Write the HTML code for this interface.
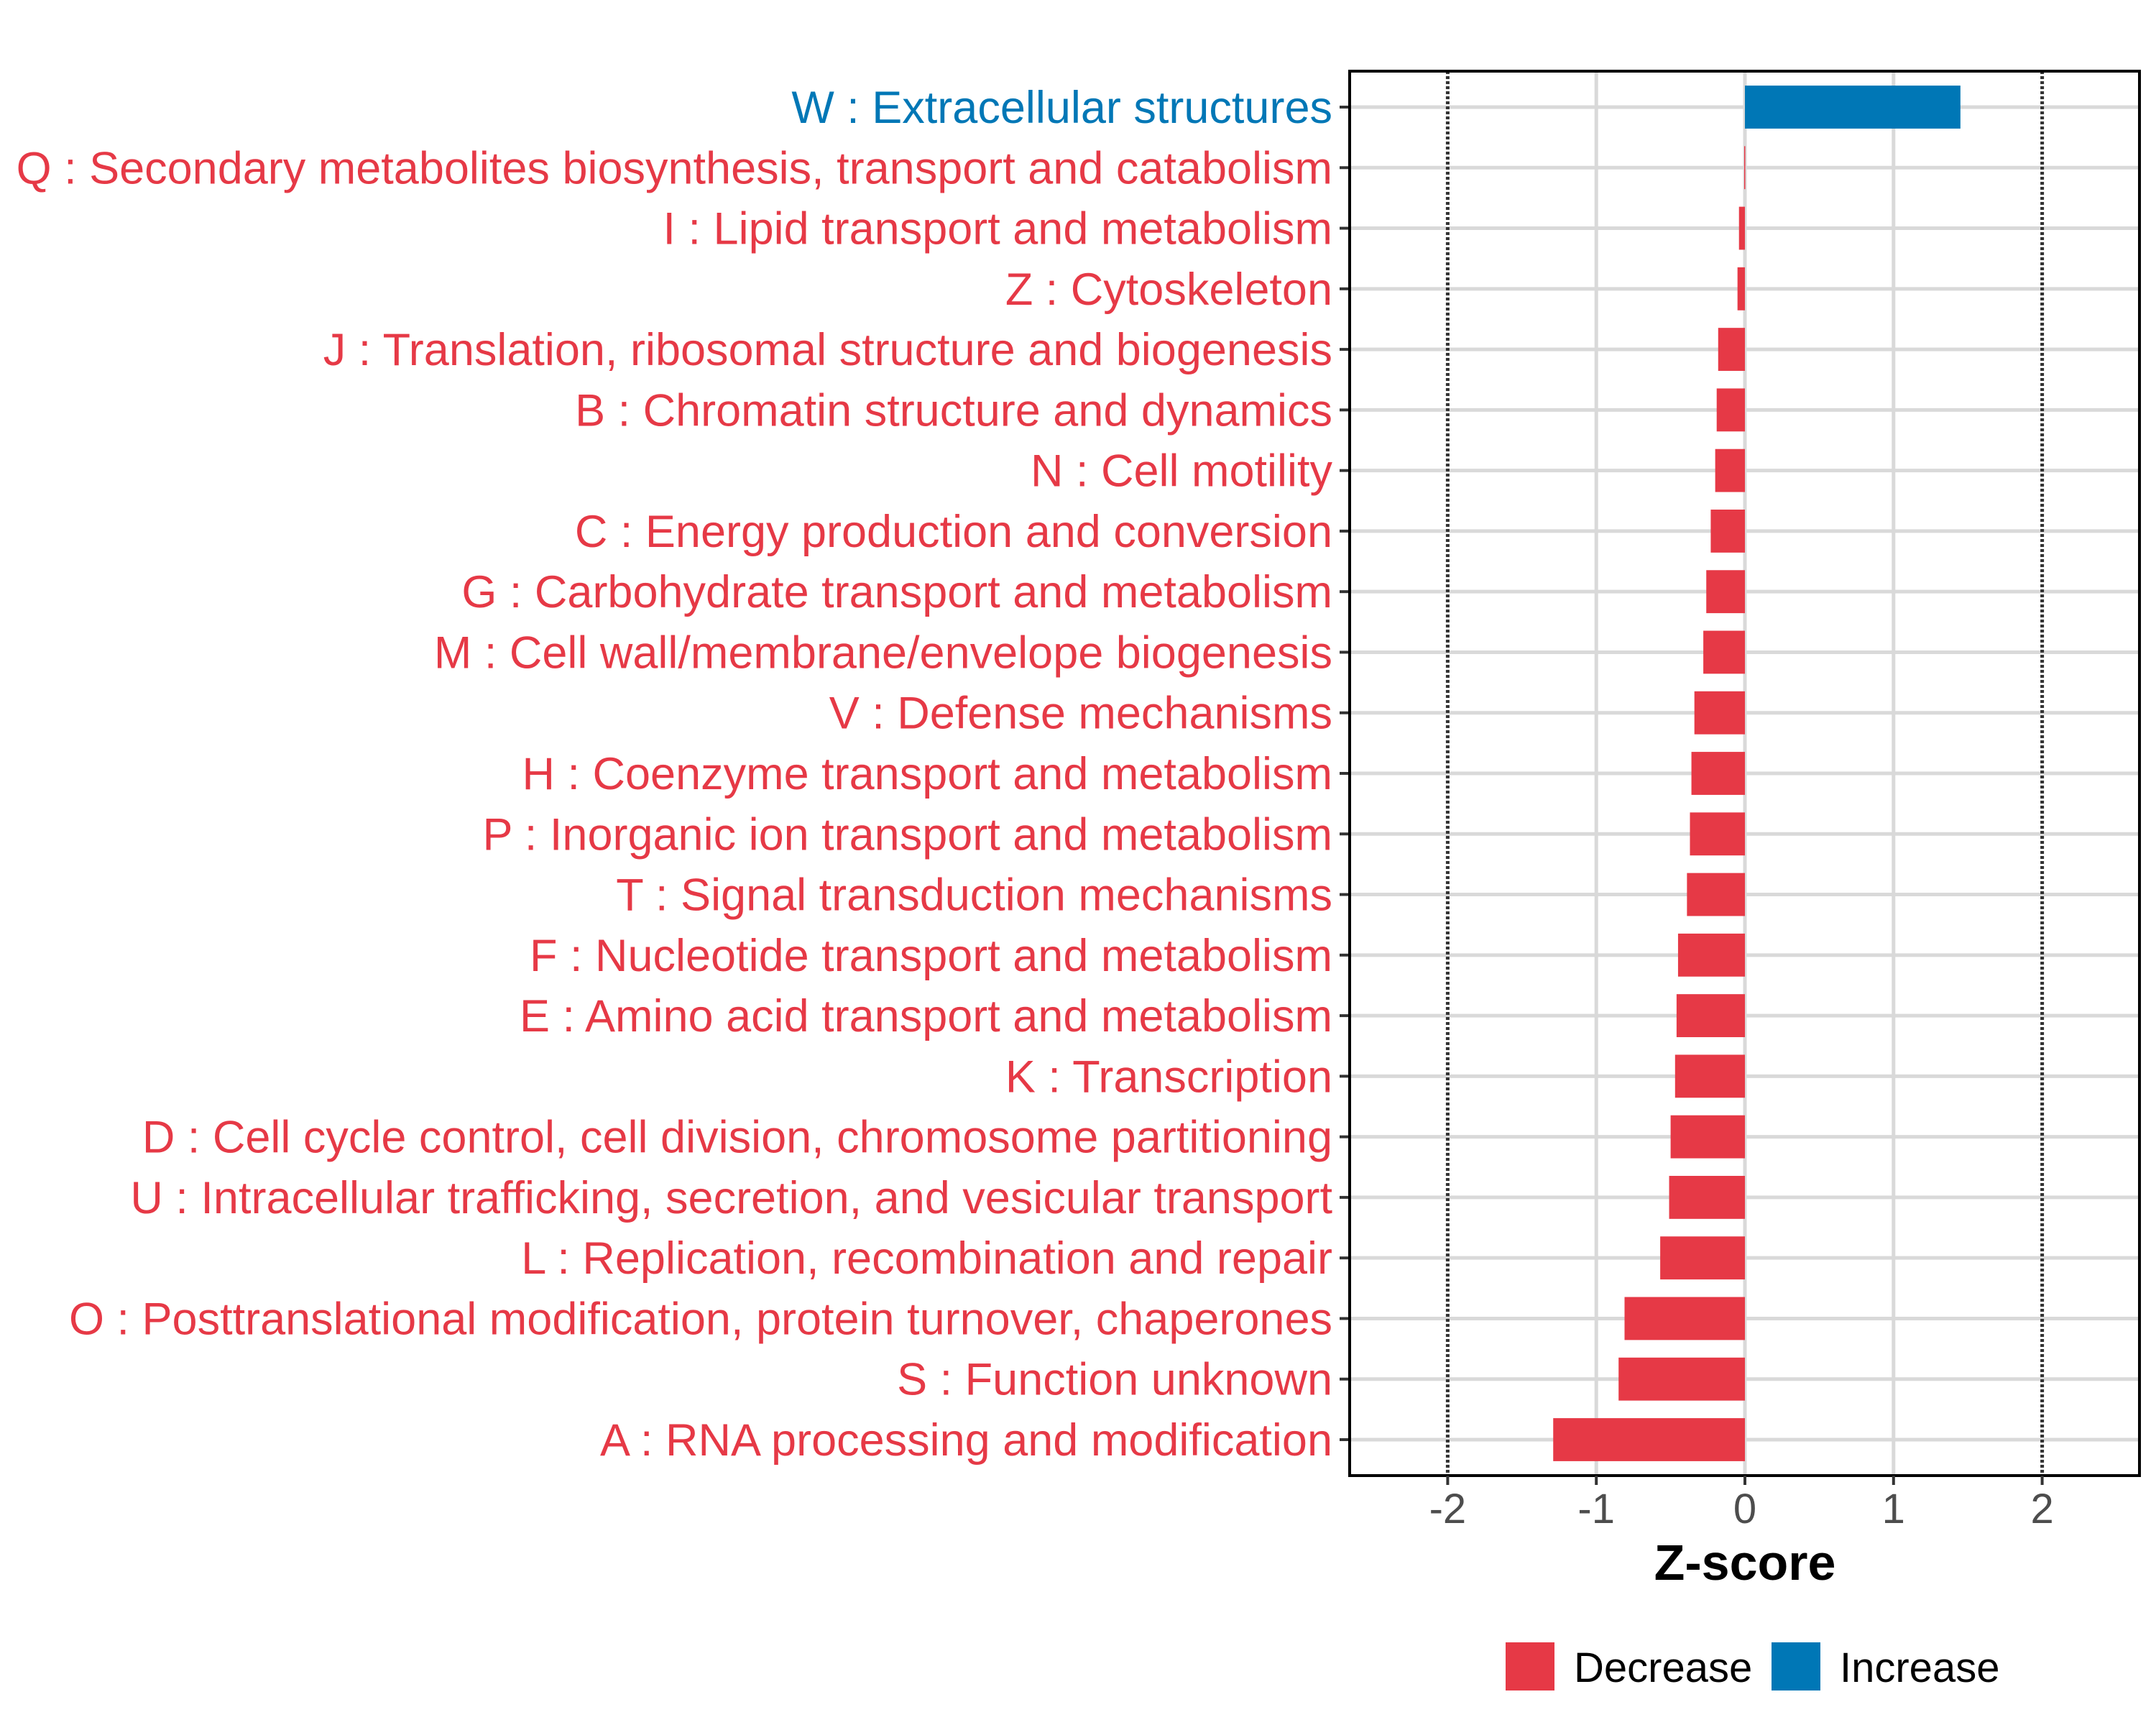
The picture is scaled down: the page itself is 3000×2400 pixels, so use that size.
<!DOCTYPE html>
<html><head><meta charset="utf-8"><style>
html,body{margin:0;padding:0;background:#fff;}
svg{display:block;font-family:"Liberation Sans",Arial,sans-serif;}
</style></head><body>
<svg id="chart" width="3000" height="2400" viewBox="0 0 3000 2400" xmlns="http://www.w3.org/2000/svg">
<rect width="3000" height="2400" fill="#fff"/>
<g id="grid"></g>
<g id="bars"></g>
<g id="axes"></g>
<g id="legend"></g>
</svg>
<script>
const categories = ["W : Extracellular structures","Q : Secondary metabolites biosynthesis, transport and catabolism","I : Lipid transport and metabolism","Z : Cytoskeleton","J : Translation, ribosomal structure and biogenesis","B : Chromatin structure and dynamics","N : Cell motility","C : Energy production and conversion","G : Carbohydrate transport and metabolism","M : Cell wall/membrane/envelope biogenesis","V : Defense mechanisms","H : Coenzyme transport and metabolism","P : Inorganic ion transport and metabolism","T : Signal transduction mechanisms","F : Nucleotide transport and metabolism","E : Amino acid transport and metabolism","K : Transcription","D : Cell cycle control, cell division, chromosome partitioning","U : Intracellular trafficking, secretion, and vesicular transport","L : Replication, recombination and repair","O : Posttranslational modification, protein turnover, chaperones","S : Function unknown","A : RNA processing and modification"];
const zscores = [1.45,-0.005,-0.04,-0.05,-0.18,-0.19,-0.2,-0.23,-0.26,-0.28,-0.34,-0.36,-0.37,-0.39,-0.45,-0.46,-0.47,-0.5,-0.51,-0.57,-0.81,-0.85,-1.29];
const xTicks = [-2,-1,0,1,2];
const xTickLabels = ["-2","-1","0","1","2"];
const thresholds = [-2,2];
const legendLabels = ["Decrease","Increase"];

const RED="#E63946", BLUE="#0077B6";
const NS="http://www.w3.org/2000/svg";
const P={l:1878,r:2977,t:99,b:2053};
const x0=2428, unit=206.8;
function xs(v){return x0+v*unit;}
const y0=149, step=(2003-149)/(categories.length-1);
function ys(i){return y0+i*step;}
function mk(tag,attrs,parent){const e=document.createElementNS(NS,tag);for(const k in attrs)e.setAttribute(k,attrs[k]);parent.appendChild(e);return e;}
const grid=document.getElementById('grid'),bars=document.getElementById('bars'),axes=document.getElementById('axes'),legend=document.getElementById('legend');

xTicks.forEach((t,i)=>{
  if(thresholds.indexOf(t)<0){
    const g=mk('line',{x1:xs(t),x2:xs(t),y1:P.t,y2:P.b,stroke:'#d9d9d9','stroke-width':5},grid);
    
    
  }
});
categories.forEach((c,i)=>{
  const g=mk('line',{x1:P.l,x2:P.r,y1:ys(i),y2:ys(i),stroke:'#d9d9d9','stroke-width':5},grid);
  
  
});
thresholds.forEach(t=>{
  const g=mk('line',{x1:xs(t),x2:xs(t),y1:P.t,y2:P.b,stroke:'#333','stroke-width':5,'stroke-dasharray':'4 3'},grid);
  
  
});
const bh=step*0.71;
zscores.forEach((v,i)=>{
  const a=xs(Math.min(0,v)), b=xs(Math.max(0,v));
  const r=mk('rect',{x:a,y:ys(i)-bh/2,width:Math.max(b-a,1.5),height:bh,fill:v>=0?BLUE:RED},bars);
  
  
  const t=mk('text',{x:1854,y:ys(i)+22,'text-anchor':'end','font-size':63,fill:v>=0?BLUE:RED},axes);
  t.textContent=categories[i];
  
  
  const tk=mk('line',{x1:1864,x2:P.l,y1:ys(i),y2:ys(i),stroke:'#333','stroke-width':4},axes);
  
  
});
const frame=mk('rect',{x:P.l,y:P.t,width:P.r-P.l,height:P.b-P.t,fill:'none',stroke:'#000','stroke-width':4},axes);


xTicks.forEach((t,i)=>{
  const tk=mk('line',{x1:xs(t),x2:xs(t),y1:P.b,y2:P.b+13,stroke:'#333','stroke-width':4},axes);
  
  
  const l=mk('text',{x:xs(t),y:2119,'text-anchor':'middle','font-size':58,fill:'#4d4d4d'},axes);
  l.textContent=xTickLabels[i];
  
  
});
const xt=mk('text',{x:xs(0),y:2198,'text-anchor':'middle','font-size':70,'font-weight':'bold',fill:'#000'},axes);
xt.textContent='Z-score';


const lx=[2095,2465], tx=[2190,2560], cols=[RED,BLUE];
legendLabels.forEach((s,i)=>{
  const k=mk('rect',{x:lx[i],y:2285,width:68,height:67,fill:cols[i]},legend);
  
  
  const t=mk('text',{x:tx[i],y:2340,'font-size':58,fill:'#000'},legend);
  t.textContent=s;
  
  
});
</script>
</body></html>
